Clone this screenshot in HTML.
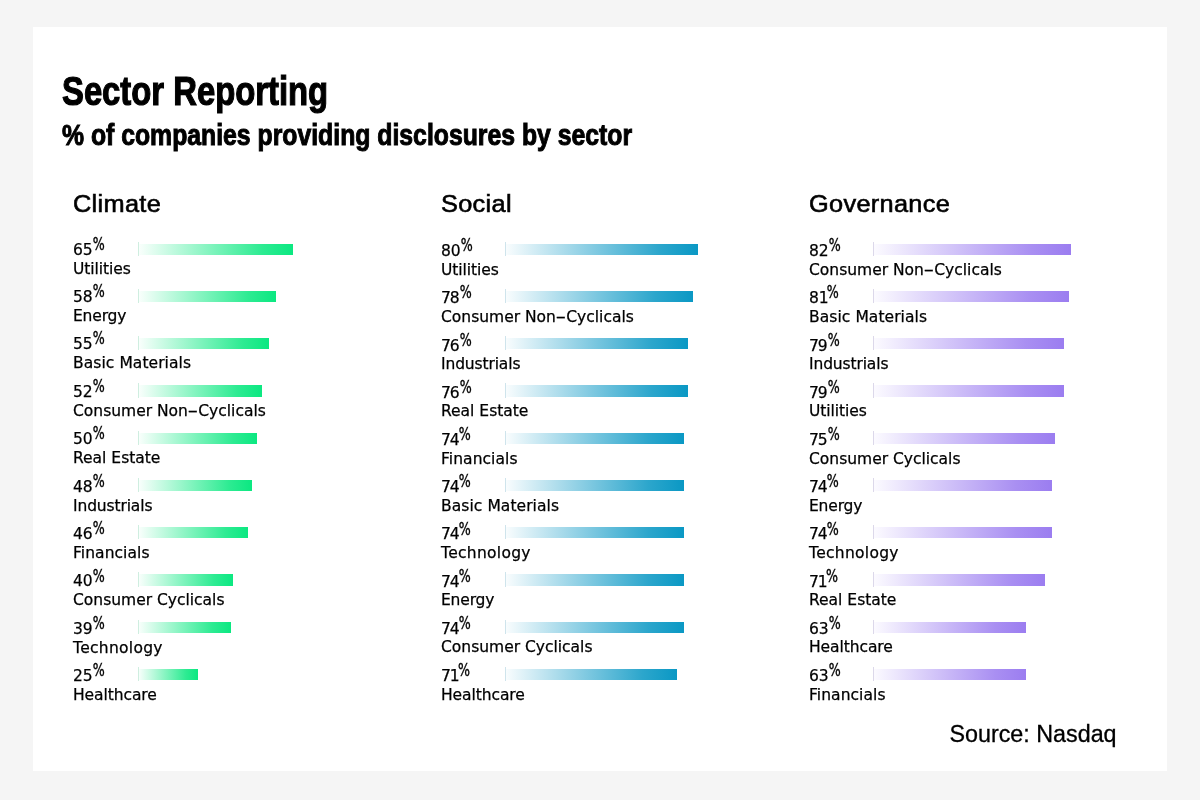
<!DOCTYPE html>
<html lang="en">
<head>
<meta charset="utf-8">
<title>Sector Reporting</title>
<style>
*{margin:0;padding:0;box-sizing:border-box}
html,body{width:1200px;height:800px;overflow:hidden;background:#f5f5f5}
body{position:relative;font-family:"Liberation Sans",Arial,sans-serif;color:#000}
.card{position:absolute;left:33px;top:27px;width:1134px;height:744px;background:#fff}
h1,h2,h3,.n,.l,.src{position:absolute;white-space:nowrap;font-weight:normal;line-height:1;transform-origin:0 0}
h1{-webkit-text-stroke:1.2px #000;left:61.6px;top:70.6px;font-size:40.0px;font-weight:bold;transform:scaleX(0.82);letter-spacing:0px}
h2{-webkit-text-stroke:1.0px #000;left:62.0px;top:120.5px;font-size:29.2px;font-weight:bold;transform:scaleX(0.849);letter-spacing:0px}
h3{transform:scaleX(1.03);-webkit-text-stroke:0.6px #000;top:191.8px;font-size:24.6px;letter-spacing:0.3px}
.row{position:absolute;width:340px;height:47.26px}
.n,.l{-webkit-text-stroke:0.25px #000;font-family:"DejaVu Sans","Liberation Sans",sans-serif;left:0}
.n{top:5.5px;font-size:16.5px;letter-spacing:0px;transform:scaleX(0.94)}
.n sup{-webkit-text-stroke:0.4px #000;font-size:16.8px;position:absolute;top:-5.9px;left:21.2px;line-height:1;vertical-align:baseline;letter-spacing:0;transform:scaleX(0.8);transform-origin:0 0}
.l{top:25.5px;font-size:15.5px;letter-spacing:0px;transform:scaleX(1)}
.hy{display:inline-block;transform:scaleX(1.9);margin:0 2.4px;letter-spacing:0}
.bar{position:absolute;left:64px;top:7.5px;height:11.4px}
.bar::before{content:"";position:absolute;left:0;top:-2px;bottom:-1px;width:1px}
.g .bar{margin-left:0.9px;background:linear-gradient(90deg,#fbfffd 0%,#79f3ba 50%,#2deb92 80%,#0be881 100%)}
.b .bar{margin-left:0.4px;background:linear-gradient(90deg,#fafdfe 0%,#78c6df 50%,#2ca6cc 80%,#0a98c4 100%)}
.p .bar{margin-left:0.1px;background:linear-gradient(90deg,#fcfbff 0%,#c8b7f7 50%,#a98ff2 80%,#9b7df0 100%)}
.g .bar::before{background:#cfeee0}
.b .bar::before{background:#cfe4ec}
.p .bar::before{background:#dcd8ea}
.src{-webkit-text-stroke:0.3px #000;left:949.5px;top:722.7px;font-size:23.3px;letter-spacing:0px}
</style>
</head>
<body>
<main class="card"></main>
<h1>Sector Reporting</h1>
<h2>% of companies providing disclosures by sector</h2>
<section class="g">
<h3 style="left:73px">Climate</h3>
<div class="row" style="left:73px;top:236.00px"><div class="n" style="margin-top:0.00px">65<sup>%</sup></div><div class="bar" style="width:155.1px"></div><div class="l" style="margin-top:0.00px;letter-spacing:-0.07px">Utilities</div></div>
<div class="row" style="left:73px;top:283.26px"><div class="n" style="margin-top:0.16px">58<sup>%</sup></div><div class="bar" style="width:138.4px"></div><div class="l" style="margin-top:0.16px;letter-spacing:-0.17px">Energy</div></div>
<div class="row" style="left:73px;top:330.52px"><div class="n" style="margin-top:0.32px">55<sup>%</sup></div><div class="bar" style="width:131.3px"></div><div class="l" style="margin-top:0.32px;letter-spacing:0.07px">Basic Materials</div></div>
<div class="row" style="left:73px;top:377.78px"><div class="n" style="margin-top:0.48px">52<sup>%</sup></div><div class="bar" style="width:124.2px"></div><div class="l" style="margin-top:0.48px">Consumer Non<span class="hy">-</span>Cyclicals</div></div>
<div class="row" style="left:73px;top:425.04px"><div class="n" style="margin-top:0.64px">50<sup>%</sup></div><div class="bar" style="width:119.4px"></div><div class="l" style="margin-top:0.64px">Real Estate</div></div>
<div class="row" style="left:73px;top:472.30px"><div class="n" style="margin-top:0.80px">48<sup>%</sup></div><div class="bar" style="width:114.6px"></div><div class="l" style="margin-top:0.80px;letter-spacing:-0.13px">Industrials</div></div>
<div class="row" style="left:73px;top:519.56px"><div class="n" style="margin-top:0.96px">46<sup>%</sup></div><div class="bar" style="width:109.9px"></div><div class="l" style="margin-top:0.96px;letter-spacing:0.06px">Financials</div></div>
<div class="row" style="left:73px;top:566.82px"><div class="n" style="margin-top:1.12px">40<sup>%</sup></div><div class="bar" style="width:95.6px"></div><div class="l" style="margin-top:1.12px">Consumer Cyclicals</div></div>
<div class="row" style="left:73px;top:614.08px"><div class="n" style="margin-top:1.28px">39<sup>%</sup></div><div class="bar" style="width:93.2px"></div><div class="l" style="margin-top:1.28px;letter-spacing:0.3px">Technology</div></div>
<div class="row" style="left:73px;top:661.34px"><div class="n" style="margin-top:1.44px">25<sup>%</sup></div><div class="bar" style="width:59.9px"></div><div class="l" style="margin-top:1.44px;letter-spacing:-0.07px">Healthcare</div></div>
</section>
<section class="b">
<h3 style="left:441px">Social</h3>
<div class="row" style="left:441px;top:236.00px"><div class="n" style="margin-top:1.60px">80<sup>%</sup></div><div class="bar" style="width:192.6px"></div><div class="l" style="margin-top:1.20px;letter-spacing:-0.07px">Utilities</div></div>
<div class="row" style="left:441px;top:283.26px"><div class="n" style="margin-top:1.56px;letter-spacing:-1.2px">78<sup style="margin-left:-1.3px">%</sup></div><div class="bar" style="width:187.8px"></div><div class="l" style="margin-top:1.16px">Consumer Non<span class="hy">-</span>Cyclicals</div></div>
<div class="row" style="left:441px;top:330.52px"><div class="n" style="margin-top:1.52px;letter-spacing:-1.2px">76<sup style="margin-left:-1.3px">%</sup></div><div class="bar" style="width:183.1px"></div><div class="l" style="margin-top:1.12px;letter-spacing:-0.13px">Industrials</div></div>
<div class="row" style="left:441px;top:377.78px"><div class="n" style="margin-top:1.48px;letter-spacing:-1.2px">76<sup style="margin-left:-1.3px">%</sup></div><div class="bar" style="width:183.1px"></div><div class="l" style="margin-top:1.08px">Real Estate</div></div>
<div class="row" style="left:441px;top:425.04px"><div class="n" style="margin-top:1.44px;letter-spacing:-1.2px">74<sup style="margin-left:-1.8px">%</sup></div><div class="bar" style="width:178.3px"></div><div class="l" style="margin-top:1.04px;letter-spacing:0.06px">Financials</div></div>
<div class="row" style="left:441px;top:472.30px"><div class="n" style="margin-top:1.40px;letter-spacing:-1.2px">74<sup style="margin-left:-1.8px">%</sup></div><div class="bar" style="width:178.3px"></div><div class="l" style="margin-top:1.00px;letter-spacing:0.07px">Basic Materials</div></div>
<div class="row" style="left:441px;top:519.56px"><div class="n" style="margin-top:1.36px;letter-spacing:-1.2px">74<sup style="margin-left:-1.8px">%</sup></div><div class="bar" style="width:178.3px"></div><div class="l" style="margin-top:0.96px;letter-spacing:0.3px">Technology</div></div>
<div class="row" style="left:441px;top:566.82px"><div class="n" style="margin-top:1.32px;letter-spacing:-1.2px">74<sup style="margin-left:-1.8px">%</sup></div><div class="bar" style="width:178.3px"></div><div class="l" style="margin-top:0.92px;letter-spacing:-0.17px">Energy</div></div>
<div class="row" style="left:441px;top:614.08px"><div class="n" style="margin-top:1.28px;letter-spacing:-1.2px">74<sup style="margin-left:-1.8px">%</sup></div><div class="bar" style="width:178.3px"></div><div class="l" style="margin-top:0.88px">Consumer Cyclicals</div></div>
<div class="row" style="left:441px;top:661.34px"><div class="n" style="margin-top:1.24px;letter-spacing:-1.2px">71<sup style="margin-left:-3.5px">%</sup></div><div class="bar" style="width:171.2px"></div><div class="l" style="margin-top:0.84px;letter-spacing:-0.07px">Healthcare</div></div>
</section>
<section class="p">
<h3 style="left:809px">Governance</h3>
<div class="row" style="left:809px;top:236.00px"><div class="n" style="margin-top:1.60px">82<sup>%</sup></div><div class="bar" style="width:198.2px"></div><div class="l" style="margin-top:1.20px">Consumer Non<span class="hy">-</span>Cyclicals</div></div>
<div class="row" style="left:809px;top:283.26px"><div class="n" style="margin-top:1.56px">81<sup style="margin-left:-2.2px">%</sup></div><div class="bar" style="width:195.8px"></div><div class="l" style="margin-top:1.16px;letter-spacing:0.07px">Basic Materials</div></div>
<div class="row" style="left:809px;top:330.52px"><div class="n" style="margin-top:1.52px;letter-spacing:-1.2px">79<sup style="margin-left:-1.3px">%</sup></div><div class="bar" style="width:191.0px"></div><div class="l" style="margin-top:1.12px;letter-spacing:-0.13px">Industrials</div></div>
<div class="row" style="left:809px;top:377.78px"><div class="n" style="margin-top:1.48px;letter-spacing:-1.2px">79<sup style="margin-left:-1.3px">%</sup></div><div class="bar" style="width:191.0px"></div><div class="l" style="margin-top:1.08px;letter-spacing:-0.07px">Utilities</div></div>
<div class="row" style="left:809px;top:425.04px"><div class="n" style="margin-top:1.44px;letter-spacing:-1.2px">75<sup style="margin-left:-1.3px">%</sup></div><div class="bar" style="width:181.5px"></div><div class="l" style="margin-top:1.04px">Consumer Cyclicals</div></div>
<div class="row" style="left:809px;top:472.30px"><div class="n" style="margin-top:1.40px;letter-spacing:-1.2px">74<sup style="margin-left:-1.8px">%</sup></div><div class="bar" style="width:179.1px"></div><div class="l" style="margin-top:1.00px;letter-spacing:-0.17px">Energy</div></div>
<div class="row" style="left:809px;top:519.56px"><div class="n" style="margin-top:1.36px;letter-spacing:-1.2px">74<sup style="margin-left:-1.8px">%</sup></div><div class="bar" style="width:179.1px"></div><div class="l" style="margin-top:0.96px;letter-spacing:0.3px">Technology</div></div>
<div class="row" style="left:809px;top:566.82px"><div class="n" style="margin-top:1.32px;letter-spacing:-1.2px">71<sup style="margin-left:-3.5px">%</sup></div><div class="bar" style="width:172.0px"></div><div class="l" style="margin-top:0.92px">Real Estate</div></div>
<div class="row" style="left:809px;top:614.08px"><div class="n" style="margin-top:1.28px">63<sup>%</sup></div><div class="bar" style="width:152.9px"></div><div class="l" style="margin-top:0.88px;letter-spacing:-0.07px">Healthcare</div></div>
<div class="row" style="left:809px;top:661.34px"><div class="n" style="margin-top:1.24px">63<sup>%</sup></div><div class="bar" style="width:152.9px"></div><div class="l" style="margin-top:0.84px;letter-spacing:0.06px">Financials</div></div>
</section>
<div class="src">Source: Nasdaq</div>
</body>
</html>
